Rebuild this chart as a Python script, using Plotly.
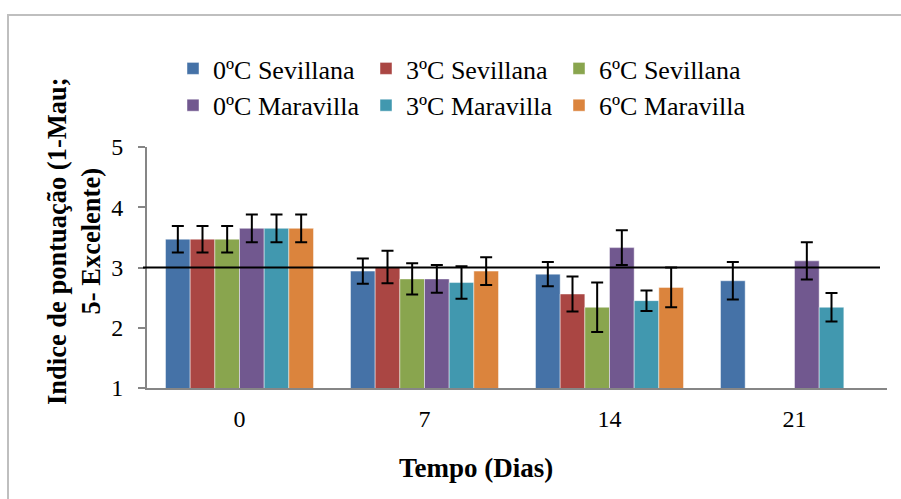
import plotly.graph_objects as go

days = ["0", "7", "14", "21"]
series_names = ["0ºC Sevillana", "3ºC Sevillana", "6ºC Sevillana",
                "0ºC Maravilla", "3ºC Maravilla", "6ºC Maravilla"]
sev0 = [3.47, 2.94, 2.89, 2.78]
sev3 = [3.47, 3.01, 2.56, None]
sev6 = [3.47, 2.81, 2.34, None]
mar0 = [3.65, 2.81, 3.33, 3.11]
mar3 = [3.65, 2.75, 2.45, 2.34]
mar6 = [3.65, 2.94, 2.67, None]
sev0_err = [0.22, 0.21, 0.20, 0.31]
sev3_err = [0.22, 0.27, 0.29, 0]
sev6_err = [0.22, 0.26, 0.41, 0]
mar0_err = [0.23, 0.23, 0.29, 0.31]
mar3_err = [0.23, 0.27, 0.17, 0.235]
mar6_err = [0.23, 0.23, 0.33, 0]
reference_line = 3
y_ticks = [1, 2, 3, 4, 5]

values = [sev0, sev3, sev6, mar0, mar3, mar6]
errors = [sev0_err, sev3_err, sev6_err, mar0_err, mar3_err, mar6_err]
colors = ["#4572A7", "#AA4643", "#89A54E", "#71588F", "#4198AF", "#DB843D"]

FONT = "Liberation Serif, Times New Roman, serif"
W, H = 901, 499
L, R, T, B = 147, 14, 147, 111
pw, ph = W - L - R, H - T - B

def px_x(x):
    return (x - L) / pw

def px_y(y):
    return (H - B - y) / ph

fig = go.Figure()
for name, v, e, c in zip(series_names, values, errors, colors):
    fig.add_trace(go.Bar(
        x=days, y=v, name=name,
        marker=dict(color=c, line=dict(color="rgba(255,255,255,0.45)", width=1)),
        error_y=dict(type="data", array=e, visible=True, color="black",
                     thickness=2, width=6),
    ))

fig.add_shape(type="line", xref="paper", yref="y",
              x0=px_x(143), x1=px_x(880), y0=reference_line, y1=reference_line,
              line=dict(color="black", width=2))

# outer chart border
fig.add_shape(type="rect", xref="paper", yref="paper",
              x0=px_x(8), x1=px_x(910), y0=px_y(15), y1=px_y(510),
              line=dict(color="#BFBFBF", width=2), layer="below")

fig.add_annotation(
    text="<b>Indice de pontuação (1-Mau;<br>5- Excelente)</b>",
    xref="paper", yref="paper", x=px_x(74), y=px_y(241),
    textangle=-90, showarrow=False, xanchor="center", yanchor="middle",
    font=dict(family=FONT, size=26.5, color="black"),
)
fig.add_annotation(
    text="<b>Tempo (Dias)</b>",
    xref="paper", yref="paper", x=px_x(476), y=px_y(468),
    showarrow=False, xanchor="center", yanchor="middle",
    font=dict(family=FONT, size=27, color="black"),
)

fig.update_layout(
    width=W, height=H,
    margin=dict(l=L, r=R, t=T, b=B),
    paper_bgcolor="white", plot_bgcolor="white",
    barmode="group", bargap=0.2, bargroupgap=0,
    font=dict(family=FONT, size=24, color="black"),
    showlegend=True,
    legend=dict(orientation="h", x=px_x(173), y=px_y(45),
                xanchor="left", yanchor="top",
                entrywidth=148, entrywidthmode="pixels",
                font=dict(family=FONT, size=26, color="black"),
                itemclick=False, bgcolor="rgba(0,0,0,0)"),
    xaxis=dict(type="category", showline=True, linecolor="#868686", linewidth=2,
               ticks="", showgrid=False, tickfont=dict(family=FONT, size=24),
               ticklabelstandoff=8),
    yaxis=dict(range=[1, 5], tickvals=y_ticks, showline=True, linecolor="#868686",
               linewidth=2, ticks="outside", ticklen=7, tickcolor="#868686",
               tickwidth=2, showgrid=False, zeroline=False,
               ticklabelstandoff=10,
               tickfont=dict(family=FONT, size=24)),
)

fig.write_html("out.html", config={"displayModeBar": False},
               post_script="document.body.style.margin='0';document.body.style.padding='0';")
